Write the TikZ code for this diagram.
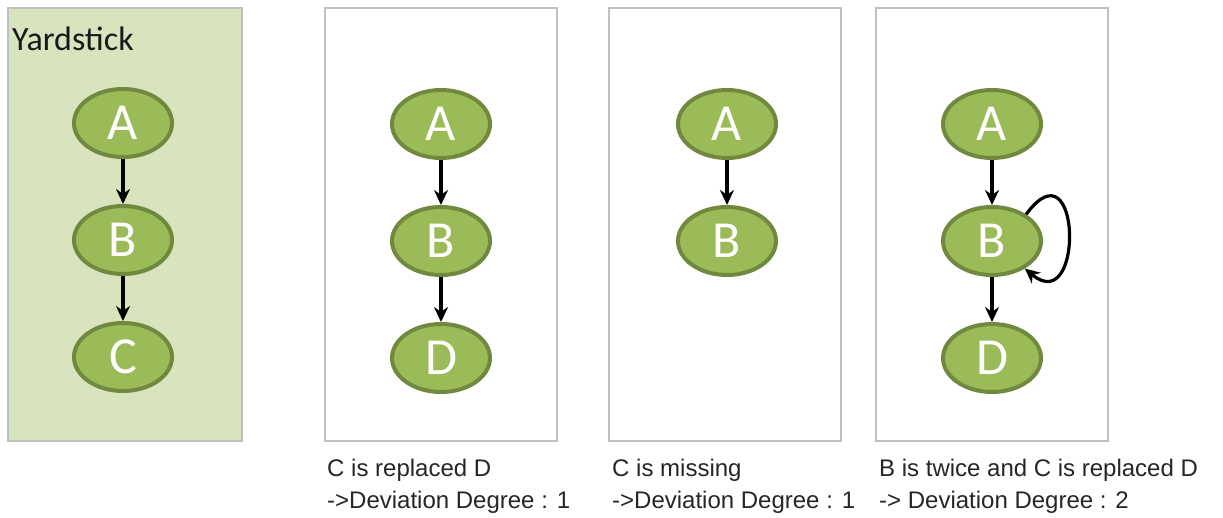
\documentclass[tikz,border=0pt]{standalone}
\usepackage{fontspec}
\setmainfont{Liberation Sans}
\newfontfamily\calibrifont{Carlito}
\usetikzlibrary{positioning, arrows.meta, shapes.geometric}
\definecolor{leafgreen}{HTML}{9BBB59}
\definecolor{leafdark}{HTML}{71893F}
\definecolor{paleleaf}{HTML}{D7E4BD}
\definecolor{framegray}{HTML}{BFBFBF}
\tikzset{
  panel/.style={draw=framegray, line width=2pt, fill=white, minimum width=232pt, minimum height=433pt, inner sep=0pt},
  yardpanel/.style={panel, fill=paleleaf, minimum width=234pt},
  state/.style={ellipse, draw=leafdark, line width=4pt, fill=leafgreen, text=white, font=\fontsize{52}{52}\calibrifont, minimum width=98pt, minimum height=68pt, inner sep=0pt},
  title/.style={anchor=base west, font=\fontsize{34}{34}\calibrifont, text=black!90, inner sep=0pt},
  caption/.style={anchor=north west, font=\fontsize{24}{32}\selectfont, text=black!85, align=left, inner sep=0pt},
  arrow/.style={-{Stealth[length=15pt, width=14pt]}, line width=3.2pt, draw=black},
  selfloop/.style={-{Stealth[length=15pt, width=14pt]}, line width=3.2pt, draw=black},
}

\begin{document}
\begin{tikzpicture}[x=1pt, y=-1pt, node distance=45pt]
  \useasboundingbox (0,0) rectangle (1223,517);
  % Panels
  \node[yardpanel] (yard) at (125,224) {};
  \node[panel] (rep) at (441,224) {};
  \node[panel] (mis) at (725,224) {};
  \node[panel] (twi) at (992,224) {};

  % Yardstick
  \node[title] (yardtitle) at (12,50) {Yardstick};
  \node[state] (yardA) at (123,123) {A};
  \node[state, below=of yardA] (yardB) {B};
  \node[state, below=of yardB] (yardC) {C};
  \draw[arrow] (yardA) -- (yardB);
  \draw[arrow] (yardB) -- (yardC);

  % C is replaced D
  \node[state] (repA) at (441,124) {A};
  \node[state, below=of repA] (repB) {B};
  \node[state, below=of repB] (repD) {D};
  \draw[arrow] (repA) -- (repB);
  \draw[arrow] (repB) -- (repD);

  % C is missing
  \node[state] (misA) at (727,124) {A};
  \node[state, below=of misA] (misB) {B};
  \draw[arrow] (misA) -- (misB);

  % B is twice
  \node[state] (twiA) at (992,124) {A};
  \node[state, below=of twiA] (twiB) {B};
  \node[state, below=of twiB] (twiD) {D};
  \draw[arrow] (twiA) -- (twiB);
  \draw[arrow] (twiB) -- (twiD);
  \draw[selfloop] (twiB.38) .. controls +(55,-75) and +(60,50) .. (twiB.-40);

  % Captions
  \node[caption] (repcap) at (327,459) {C is replaced D\\->Deviation Degree : 1};
  \node[caption] (miscap) at (612,459) {C is missing\\->Deviation Degree : 1};
  \node[caption] (twicap) at (879,459) {B is twice and C is replaced D\\-> Deviation Degree : 2};
\end{tikzpicture}
\end{document}
